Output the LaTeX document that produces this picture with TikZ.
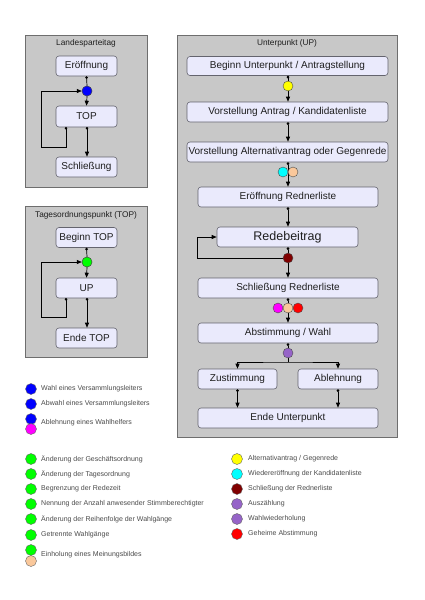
\documentclass[tikz,border=0pt]{standalone}
\usepackage{fontspec}
\setmainfont{Liberation Sans}
\usetikzlibrary{arrows.meta}
\definecolor{boxgray}{RGB}{200,200,200}
\definecolor{boxline}{RGB}{110,110,110}
\definecolor{nodefill}{RGB}{234,234,252}
\definecolor{nodeline}{RGB}{100,100,110}
\definecolor{cblue}{RGB}{0,0,255}
\definecolor{cgreen}{RGB}{0,255,0}
\definecolor{cyellow}{RGB}{255,255,0}
\definecolor{ccyan}{RGB}{0,255,255}
\definecolor{cpeach}{RGB}{250,200,155}
\definecolor{cdarkred}{RGB}{128,0,0}
\definecolor{cmagenta}{RGB}{255,0,255}
\definecolor{cpurple}{RGB}{150,100,200}
\definecolor{cred}{RGB}{255,0,0}
\definecolor{textc}{RGB}{30,30,30}
\begin{document}
\begin{tikzpicture}[x=1pt,y=-1pt,
  group/.style={draw=boxline,fill=boxgray,line width=0.6pt},
  grouptitle/.style={font=\fontsize{8.3}{9}\selectfont,text=textc,inner sep=0pt},
  stepbox/.style={draw=nodeline,fill=nodefill,rounded corners=3pt,line width=0.6pt,
    minimum height=20pt,inner sep=0pt,font=\fontsize{10}{12}\selectfont,text=textc},
  evt/.style={circle,draw=black!70,line width=0.4pt,minimum size=10pt,inner sep=0pt},
  lgd/.style={circle,draw=black!60,line width=0.4pt,minimum size=11pt,inner sep=0pt},
  lgdtext/.style={anchor=west,inner sep=0pt,font=\fontsize{7}{8}\selectfont,text=textc!80},
  conn/.style={line width=0.7pt,black,{Circle[length=2.6pt]}-{Triangle[length=5pt,width=4pt]}},
  connd/.style={line width=0.7pt,black,{Circle[length=2.6pt]}-},
  conna/.style={line width=0.7pt,black,-{Triangle[length=5pt,width=4pt]}},
  connp/.style={line width=0.7pt,black},
]
\useasboundingbox (0,0) rectangle (424,600);
\fill[white] (0,0) rectangle (424,600);

% ---------- Landesparteitag ----------
\draw[group] (25,35) rectangle (147,187);
\node[grouptitle] (t1) at (86,43) {Landesparteitag};
\node[stepbox,minimum width=61pt] (l1) at (86.5,66) {Eröffnung};
\node[stepbox,minimum width=61pt,minimum height=21pt] (l2) at (86.5,116.5) {TOP};
\node[stepbox,minimum width=61pt] (l3) at (86.5,167) {Schließung};
\node[evt,fill=cblue] (lb) at (87,91) {};
\coordinate (l2a) at (66,127);
\coordinate (l2b) at (87,127);
\draw[connd] (l1.south) -- (lb.north);
\draw[conna] (lb.south) -- (l2.north);
\draw[conna,{Circle[length=2.6pt]}-{Triangle[length=5pt,width=4pt]}] (l2a) -- (66,147) -- (41,147) -- (41,91) -- (lb.west);
\draw[conn] (l2b) -- (l2b |- l3.north);
\node[evt,fill=cblue] at (87,91) {};

% ---------- Tagesordnungspunkt ----------
\draw[group] (25,206) rectangle (147,357);
\node[grouptitle] (t2) at (86,215) {Tagesordnungspunkt (TOP)};
\node[stepbox,minimum width=61pt] (p1) at (86.5,237.5) {Beginn TOP};
\node[stepbox,minimum width=61pt] (p2) at (86.5,288) {UP};
\node[stepbox,minimum width=61pt] (p3) at (86.5,338) {Ende TOP};
\node[evt,fill=cgreen] (pg) at (87,262) {};
\coordinate (p2a) at (66,298);
\coordinate (p2b) at (87,298);
\draw[connd] (p1.south) -- (pg.north);
\draw[conna] (pg.south) -- (p2.north);
\draw[conn] (p2a) -- (66,317) -- (41,317) -- (41,262) -- (pg.west);
\draw[conn] (p2b) -- (p2b |- p3.north);
\node[evt,fill=cgreen] at (87,262) {};

% ---------- Unterpunkt ----------
\draw[group] (177,35) rectangle (397,437);
\node[grouptitle] (t3) at (287,43) {Unterpunkt (UP)};
\node[stepbox,minimum width=201pt,minimum height=19pt] (u1) at (287.5,66) {Beginn Unterpunkt / Antragstellung};
\node[stepbox,minimum width=201pt] (u2) at (287.5,112) {Vorstellung Antrag / Kandidatenliste};
\node[stepbox,minimum width=201pt] (u3) at (287.5,152) {Vorstellung Alternativantrag oder Gegenrede};
\node[stepbox,minimum width=180pt] (u4) at (288,197) {Eröffnung Rednerliste};
\node[stepbox,minimum width=141pt,font=\fontsize{12.5}{14}\selectfont] (u5) at (287.5,237) {Redebeitrag};
\node[stepbox,minimum width=180pt] (u6) at (288,288) {Schließung Rednerliste};
\node[stepbox,minimum width=180pt] (u7) at (288,333) {Abstimmung / Wahl};
\node[stepbox,minimum width=79pt] (u8) at (237.5,379) {Zustimmung};
\node[stepbox,minimum width=80pt] (u9) at (338,379) {Ablehnung};
\node[stepbox,minimum width=180pt] (u10) at (288,418) {Ende Unterpunkt};

\coordinate (c1) at (288,86);
\coordinate (c2) at (288,172);
\coordinate (c3) at (288,258);
\coordinate (c4) at (288,308);
\coordinate (c5) at (288,353);
\coordinate (br) at (288,362);
\coordinate (brl) at (237.5,362);
\coordinate (brr) at (338,362);

\draw[connd] (u1.south -| c1) -- (c1);
\draw[conna] (c1) -- (u2.north -| c1);
\draw[conn] (u2.south -| c1) -- (u3.north -| c1);
\draw[connd] (u3.south -| c2) -- (c2);
\draw[conna] (c2) -- (u4.north -| c2);
\draw[conn] (u4.south -| c2) -- (u5.north -| c2);
\draw[connd] (u5.south -| c3) -- (c3);
\draw[conna] (c3) -- (u6.north -| c3);
\draw[conna] (c3) -- (197,258) -- (197,237) -- (u5.west);
\draw[connd] (u6.south -| c4) -- (c4);
\draw[conna] (c4) -- (u7.north -| c4);
\draw[connd] (u7.south -| c5) -- (br);
\draw[conna] (brl) -- (br) -- (brr) -- (u9.north);
\draw[conna] (brl) -- (u8.north);
\draw[conn] (u8.south) -- (u10.north -| u8);
\draw[conn] (u9.south) -- (u10.north -| u9);

\node[evt,fill=cyellow] (uy) at (c1) {};
\node[evt,fill=ccyan] (uc) at (283,172) {};
\node[evt,fill=cpeach] (up) at (293,172) {};
\node[evt,fill=cdarkred] (ud) at (c3) {};
\node[evt,fill=cmagenta] (um) at (278,308) {};
\node[evt,fill=cpeach] (up2) at (288,308) {};
\node[evt,fill=cred] (ur) at (298,308) {};
\node[evt,fill=cpurple] (uu) at (c5) {};

% ---------- Legend ----------
\node[lgd,fill=cblue] (g1) at (31,389) {};
\node[lgdtext] (gt1) at (41,389) {Wahl eines Versammlungsleiters};
\node[lgd,fill=cblue] (g2) at (31,404) {};
\node[lgdtext] (gt2) at (41,404) {Abwahl eines Versammlungsleiters};
\node[lgd,fill=cblue] (g3) at (31,419) {};
\node[lgd,fill=cmagenta] (g4) at (31,429) {};
\node[lgdtext] (gt3) at (41,423) {Ablehnung eines Wahlhelfers};

\node[lgd,fill=cgreen] (h1) at (31,459) {};
\node[lgdtext] (ht1) at (41,459) {Änderung der Geschäftsordnung};
\node[lgd,fill=cgreen] (h2) at (31,474) {};
\node[lgdtext] (ht2) at (41,474) {Änderung der Tagesordnung};
\node[lgd,fill=cgreen] (h3) at (31,489) {};
\node[lgdtext] (ht3) at (41,489) {Begrenzung der Redezeit};
\node[lgd,fill=cgreen] (h4) at (31,504) {};
\node[lgdtext] (ht4) at (41,504) {Nennung der Anzahl anwesender Stimmberechtigter};
\node[lgd,fill=cgreen] (h5) at (31,519) {};
\node[lgdtext] (ht5) at (41,519) {Änderung der Reihenfolge der Wahlgänge};
\node[lgd,fill=cgreen] (h6) at (31,535) {};
\node[lgdtext] (ht6) at (41,535) {Getrennte Wahlgänge};
\node[lgd,fill=cgreen] (h7) at (31,550) {};
\node[lgd,fill=cpeach] (h8) at (31,561) {};
\node[lgdtext] (ht7) at (41,555) {Einholung eines Meinungsbildes};

\node[lgd,fill=cyellow] (k1) at (237,459) {};
\node[lgdtext] (kt1) at (248,459) {Alternativantrag / Gegenrede};
\node[lgd,fill=ccyan] (k2) at (237,474) {};
\node[lgdtext] (kt2) at (248,474) {Wiedereröffnung der Kandidatenliste};
\node[lgd,fill=cdarkred] (k3) at (237,489) {};
\node[lgdtext] (kt3) at (248,489) {Schließung der Rednerliste};
\node[lgd,fill=cpurple] (k4) at (237,504) {};
\node[lgdtext] (kt4) at (248,504) {Auszählung};
\node[lgd,fill=cpurple] (k5) at (237,519) {};
\node[lgdtext] (kt5) at (248,519) {Wahlwiederholung};
\node[lgd,fill=cred] (k6) at (237,534) {};
\node[lgdtext] (kt6) at (248,534) {Geheime Abstimmung};
\end{tikzpicture}
\end{document}
